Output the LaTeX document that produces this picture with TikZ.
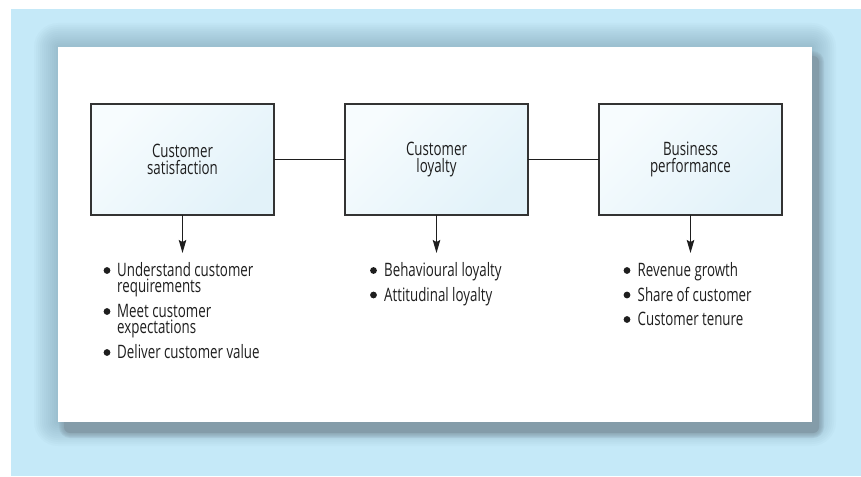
\documentclass[tikz,border=0pt]{standalone}
\usepackage{fontspec}
\setmainfont{Open Sans}[FakeStretch=0.72]
\usetikzlibrary{arrows.meta}
\definecolor{bgblue}{HTML}{C5E9F8}
\definecolor{halo}{HTML}{5E8296}
\definecolor{coreshadow}{HTML}{849CA9}
\definecolor{boxline}{HTML}{333333}
\definecolor{txt}{HTML}{1E1E1E}
\definecolor{boxtl}{HTML}{F7FCFE}
\definecolor{boxbr}{HTML}{E2F2F9}
\begin{document}
\begin{tikzpicture}[x=1pt,y=-1pt,
  stagebox/.style={draw=boxline,line width=1.3pt,minimum width=183pt,minimum height=111pt,
    anchor=north west,inner sep=0pt,outer sep=0pt,top color=boxtl,bottom color=boxbr,
    shading angle=45,align=center,text=txt,font=\fontsize{18.5}{16.8}\selectfont},
  link/.style={draw=txt,line width=1pt},
  downarrow/.style={draw=txt,line width=1.2pt,-{Stealth[length=13pt,width=7.5pt,inset=2pt]}},
  itemtext/.style={anchor=base west,align=left,inner sep=0pt,text=txt,font=\fontsize{18.5}{16.3}\selectfont},
  dot/.style={circle,fill=txt,inner sep=0pt,minimum size=6.8pt}
]
\useasboundingbox (0,0) rectangle (861,476);
\fill[white] (0,0) rectangle (861,476);
\fill[bgblue] (11,9) rectangle (861,476);
% soft glow around the panel
\foreach \d in {24,22,...,2}{
  \fill[halo,opacity=0.035,rounded corners=\d pt] (58-\d,47-\d) rectangle (812+\d,422+\d);
}
% hard shadow
\foreach \d in {5,4,...,1}{
  \fill[coreshadow,opacity=0.18,rounded corners=6pt+\d pt] (64-\d,56-\d) rectangle (819+\d,433+\d);
}
\fill[coreshadow,rounded corners=6pt] (64,56) rectangle (819,433);
% panel
\fill[white] (58,47) rectangle (812,422);

\node[stagebox] (sat) at (91,104) {Customer\\satisfaction};
\node[stagebox] (loy) at (345,104) {Customer\\loyalty};
\node[stagebox] (bus) at (599,104) {Business\\performance};

\draw[link] (sat.east) -- (loy.west);
\draw[link] (loy.east) -- (bus.west);

\coordinate (satend) at ([yshift=-38pt]sat.south);
\coordinate (loyend) at ([yshift=-38pt]loy.south);
\coordinate (busend) at ([yshift=-38pt]bus.south);
\draw[downarrow] (sat.south) -- (satend);
\draw[downarrow] (loy.south) -- (loyend);
\draw[downarrow] (bus.south) -- (busend);

% left list (two-line nodes are placed by the baseline of their last line)
\node[dot] (sb1) at (107,270.5) {};
\node[itemtext] (s1) at (117,292.8) {Understand customer\\requirements};
\node[dot] (sb2) at (107,311.5) {};
\node[itemtext] (s2) at (117,333.8) {Meet customer\\expectations};
\node[dot] (sb3) at (107,352.5) {};
\node[itemtext] (s3) at (117,358.5) {Deliver customer value};

% middle list
\node[dot] (lb1) at (373.5,270.5) {};
\node[itemtext] (l1) at (384,276.5) {Behavioural loyalty};
\node[dot] (lb2) at (373.5,295) {};
\node[itemtext] (l2) at (384,301) {Attitudinal loyalty};

% right list
\node[dot] (bb1) at (627,270.5) {};
\node[itemtext] (b1) at (637.5,276.5) {Revenue growth};
\node[dot] (bb2) at (627,295) {};
\node[itemtext] (b2) at (637.5,301) {Share of customer};
\node[dot] (bb3) at (627,319.5) {};
\node[itemtext] (b3) at (637.5,325.5) {Customer tenure};
\end{tikzpicture}
\end{document}
